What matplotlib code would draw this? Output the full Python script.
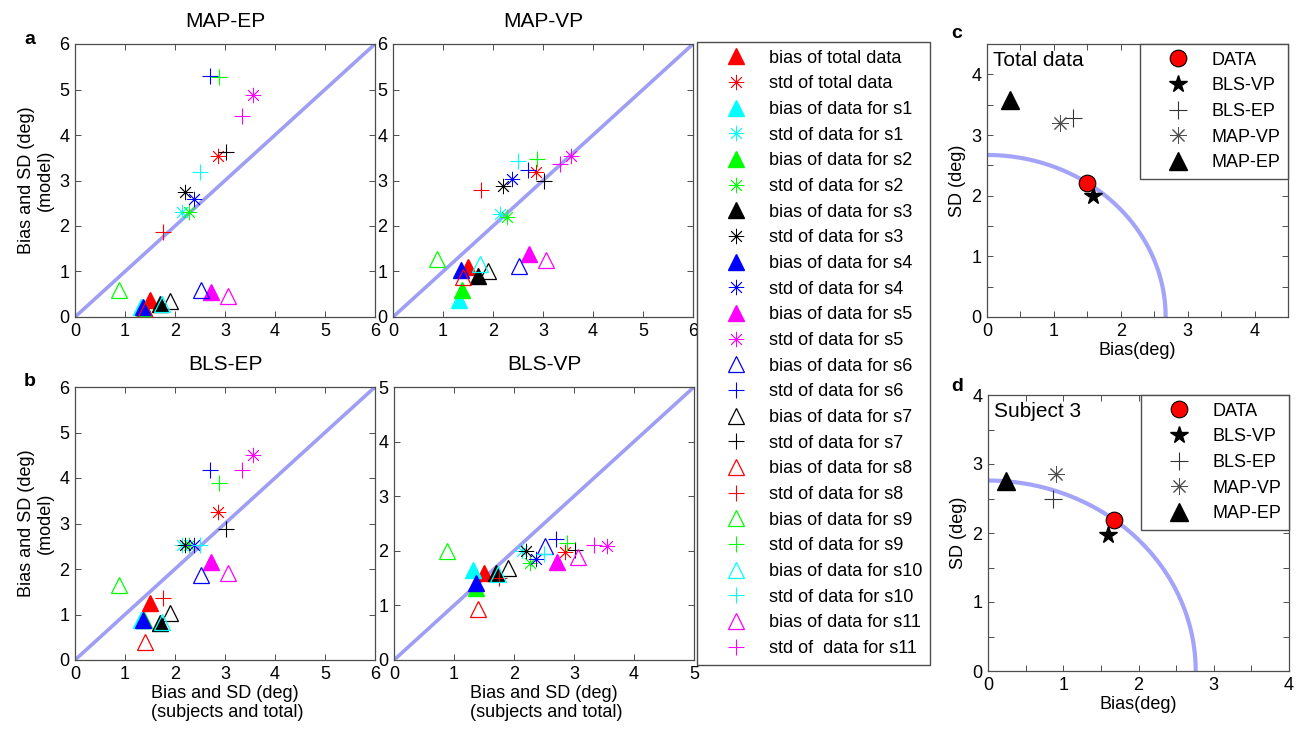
import numpy as np
import matplotlib.pyplot as plt
from matplotlib.lines import Line2D

plt.rcParams['font.family'] = ['Liberation Sans', 'DejaVu Sans']

# groups: total data then subjects s1..s11
groups = ['total data', 's1', 's2', 's3', 's4', 's5', 's6', 's7', 's8', 's9', 's10', 's11']
group_colors = ['red', 'cyan', 'lime', 'black', 'blue', 'magenta',
                'blue', 'black', 'red', 'lime', 'cyan', 'magenta']
filled = [True] * 6 + [False] * 6

# measured data (x axis of panels a, b)
data_bias = [1.50, 1.32, 1.37, 1.70, 1.36, 2.71, 2.51, 1.90, 1.40, 0.88, 1.73, 3.06]
data_std = [2.85, 2.13, 2.27, 2.20, 2.37, 3.55, 2.70, 3.02, 1.75, 2.88, 2.50, 3.33]

# model predictions (y axis)
mapep_bias = [0.37, 0.22, 0.20, 0.28, 0.22, 0.55, 0.59, 0.35, 0.15, 0.59, 0.28, 0.46]
mapep_std = [3.54, 2.31, 2.31, 2.74, 2.60, 4.89, 5.30, 3.63, 1.87, 5.28, 3.19, 4.42]

mapvp_bias = [1.10, 0.38, 0.60, 0.90, 1.03, 1.39, 1.13, 1.01, 0.88, 1.28, 1.17, 1.25]
mapvp_std = [3.19, 2.27, 2.20, 2.88, 3.03, 3.54, 3.23, 3.00, 2.80, 3.48, 3.43, 3.37]

blsep_bias = [1.26, 0.88, 0.88, 0.82, 0.88, 2.16, 1.87, 1.03, 0.40, 1.65, 0.84, 1.91]
blsep_std = [3.26, 2.53, 2.53, 2.53, 2.53, 4.51, 4.18, 2.88, 1.37, 3.89, 2.53, 4.17]

blsvp_bias = [1.60, 1.65, 1.31, 1.60, 1.41, 1.80, 2.09, 1.69, 0.93, 1.99, 1.57, 1.89]
blsvp_std = [1.97, 1.99, 1.77, 1.99, 1.85, 2.09, 2.21, 2.02, 1.50, 2.15, 1.94, 2.11]

# panels c and d: bias vs SD
cd_models = ['DATA', 'BLS-VP', 'BLS-EP', 'MAP-VP', 'MAP-EP']
total_bias = [1.50, 1.59, 1.29, 1.09, 0.34]
total_sd = [2.21, 1.99, 3.28, 3.20, 3.58]
subj3_bias = [1.68, 1.59, 0.86, 0.91, 0.24]
subj3_sd = [2.19, 1.97, 2.50, 2.85, 2.75]

W, H = 1306, 736
fig = plt.figure(figsize=(W / 100, H / 100), dpi=100)

def box(l, t, r, b):
    return [l / W, 1 - b / H, (r - l) / W, (b - t) / H]

asterisk = (8, 2, 0)
diag_color = (0.62, 0.62, 0.96)
frame_color = '0.3'
leg_kw = dict(fontsize=13, frameon=True, fancybox=False, edgecolor=frame_color,
              borderaxespad=0, borderpad=0.43, handlelength=3.45, handletextpad=0.1,
              labelspacing=0.48, framealpha=1)

def style(ax, lim, step=1.0, minor=None):
    ax.set_xlim(0, lim)
    ax.set_ylim(0, lim)
    ax.set_xticks(np.arange(0, lim + 0.01, step))
    ax.set_yticks(np.arange(0, lim + 0.01, step))
    ax.set_xticklabels([str(int(v)) for v in ax.get_xticks()])
    ax.set_yticklabels([str(int(v)) for v in ax.get_yticks()])
    if minor:
        ax.set_xticks(np.arange(0, lim + 0.01, minor), minor=True)
        ax.set_yticks(np.arange(0, lim + 0.01, minor), minor=True)
        ax.tick_params(which='minor', direction='in', top=True, right=True,
                       length=4, width=0.7, color=frame_color)
    ax.tick_params(direction='in', top=True, right=True, length=4, width=0.7,
                   color=frame_color, labelsize=13, pad=4)
    for s in ax.spines.values():
        s.set_color(frame_color)
        s.set_linewidth(0.9)

def scatter_panel(ax, bias, std, lim, title):
    ax.plot([0, lim], [0, lim], color=diag_color, lw=2.6, zorder=1)
    for i in range(len(groups)):
        c = group_colors[i]
        if filled[i]:
            ax.plot(data_bias[i], bias[i], marker='^', ms=12, color=c,
                    mec=c, ls='none', zorder=3)
            ax.plot(data_std[i], std[i], marker=asterisk, ms=11, color=c,
                    mew=0.6, ls='none', zorder=3)
        else:
            ax.plot(data_bias[i], bias[i], marker='^', ms=12, mfc='none',
                    mec=c, mew=0.9, ls='none', zorder=3)
            ax.plot(data_std[i], std[i], marker='+', ms=12, color=c,
                    mew=0.8, ls='none', zorder=3)
    style(ax, lim)
    ax.set_title(title, fontsize=15, pad=12)

ax1 = fig.add_axes(box(75, 44, 375, 317))
scatter_panel(ax1, mapep_bias, mapep_std, 6, 'MAP-EP')
ax1.set_ylabel('Bias and SD (deg)\n(model)', fontsize=13, linespacing=1.1)

ax2 = fig.add_axes(box(393, 44, 693, 317))
scatter_panel(ax2, mapvp_bias, mapvp_std, 6, 'MAP-VP')

ax3 = fig.add_axes(box(75, 387, 375, 660))
scatter_panel(ax3, blsep_bias, blsep_std, 6, 'BLS-EP')
ax3.set_ylabel('Bias and SD (deg)\n(model)', fontsize=13, linespacing=1.1)
ax3.set_xlabel('Bias and SD (deg)\n (subjects and total)', fontsize=13,
               linespacing=1.1, labelpad=2)

ax4 = fig.add_axes(box(394, 387, 694, 660))
scatter_panel(ax4, blsvp_bias, blsvp_std, 5, 'BLS-VP')
ax4.set_xlabel('Bias and SD (deg)\n (subjects and total)', fontsize=13,
               linespacing=1.1, labelpad=2)

# shared legend for panels a and b
handles, labels = [], []
for i, g in enumerate(groups):
    c = group_colors[i]
    name = 'total data' if g == 'total data' else 'data for ' + g
    if filled[i]:
        handles.append(Line2D([], [], marker='^', ms=12, color=c, ls='none'))
        handles.append(Line2D([], [], marker=asterisk, ms=11, color=c, mew=0.6, ls='none'))
    else:
        handles.append(Line2D([], [], marker='^', ms=12, mfc='none', mec=c, mew=0.9, ls='none'))
        handles.append(Line2D([], [], marker='+', ms=12, color=c, mew=0.8, ls='none'))
    labels.append('bias of ' + name)
    labels.append('std of  ' + name if g == 's11' else 'std of ' + name)

fig.legend(handles, labels, loc='upper left', bbox_to_anchor=(697 / W, 1 - 42 / H), **leg_kw)

def circle_panel(ax, bias, sd, lim, label):
    r = np.hypot(bias[0], sd[0])
    th = np.linspace(0, np.pi / 2, 300)
    ax.plot(r * np.cos(th), r * np.sin(th), color=(0.64, 0.64, 0.98), lw=3, zorder=1)
    hs = []
    hs += ax.plot(bias[0], sd[0], marker='o', ms=12, mfc='red', mec='black', mew=0.8, ls='none', zorder=4)
    hs += ax.plot(bias[1], sd[1], marker='*', ms=13, color='black', ls='none', zorder=3)
    hs += ax.plot(bias[2], sd[2], marker='+', ms=13, color='0.2', mew=0.8, ls='none', zorder=3)
    hs += ax.plot(bias[3], sd[3], marker=asterisk, ms=12, color='0.3', mew=0.7, ls='none', zorder=3)
    hs += ax.plot(bias[4], sd[4], marker='^', ms=13, color='black', ls='none', zorder=3)
    style(ax, lim, 1.0, 0.5)
    ax.set_xlabel('Bias(deg)', fontsize=13, labelpad=2)
    ax.set_ylabel('SD (deg)', fontsize=13)
    ax.text(0.02, 0.975, label, transform=ax.transAxes, fontsize=15, va='top', ha='left')
    ax.legend(hs, cd_models, loc='upper right', bbox_to_anchor=(1, 1), **leg_kw)

ax5 = fig.add_axes(box(987, 44, 1288, 317))
circle_panel(ax5, total_bias, total_sd, 4.5, 'Total data')

ax6 = fig.add_axes(box(988, 395, 1289, 671))
circle_panel(ax6, subj3_bias, subj3_sd, 4, 'Subject 3')

for txt, x, y in [('a', 30, 40), ('b', 30, 382), ('c', 957, 34), ('d', 957, 386)]:
    fig.text(x / W, 1 - y / H, txt, fontsize=14, fontweight='bold', ha='center', va='center')

fig.savefig('out.png', dpi=100)
